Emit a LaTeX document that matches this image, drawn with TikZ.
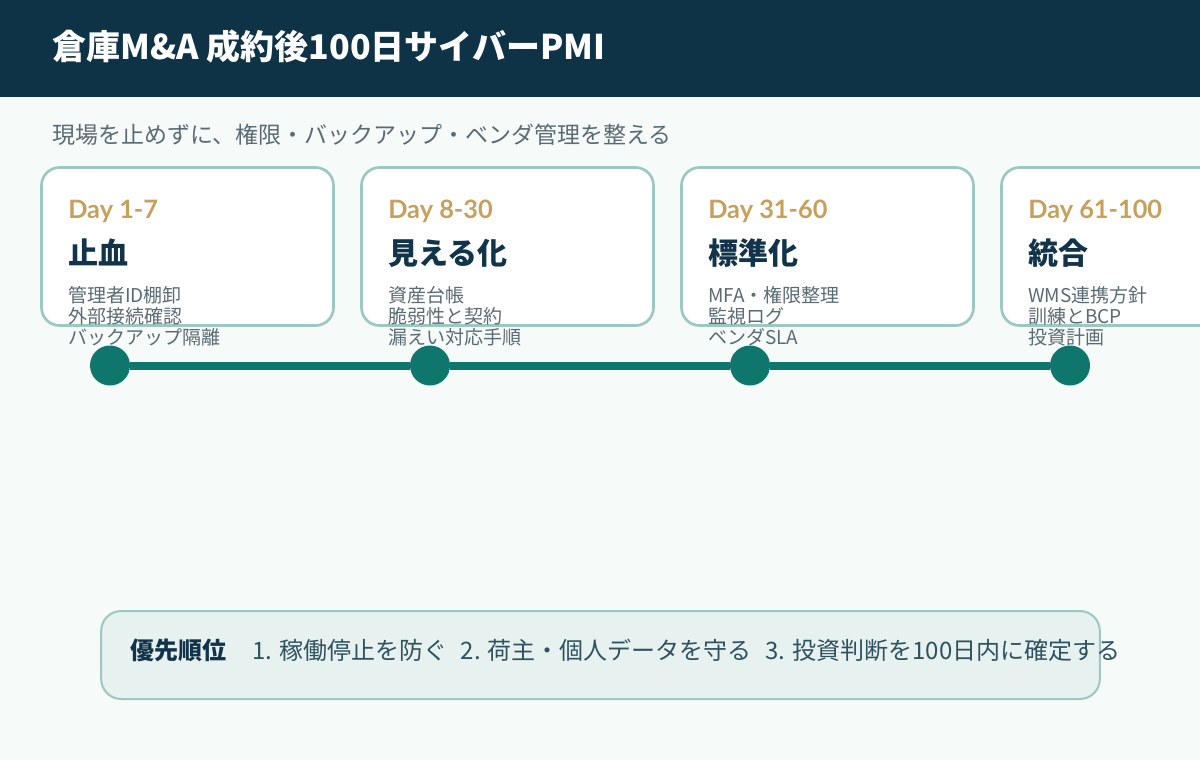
\documentclass[tikz,border=0pt]{standalone}
\usepackage{fontspec}
\setmainfont{Noto Sans CJK JP}
\newfontfamily\latofont{Lato}
\usepackage{tikz}
\usetikzlibrary{positioning}

\definecolor{bgc}{HTML}{F6FAF9}
\definecolor{hdrnavy}{HTML}{0E3347}
\definecolor{cardline}{HTML}{9DC8C1}
\definecolor{gold}{HTML}{C6A15B}
\definecolor{navy}{HTML}{12344A}
\definecolor{slate}{HTML}{5B6B73}
\definecolor{tealdot}{HTML}{0F766E}
\definecolor{priofill}{HTML}{E7F1EF}
\definecolor{priotext}{HTML}{2F5260}

\begin{document}
\begin{tikzpicture}[x=0.75pt,y=-0.75pt]
    \tikzset{
        card/.style={draw=cardline, fill=white, line width=2pt, rounded corners=13.5pt,
            minimum width=219pt, minimum height=118.5pt, node distance=240pt},
        daytxt/.style={anchor=base west, inner sep=0, text=gold,
            font=\latofont\bfseries\fontsize{19pt}{19pt}\selectfont},
        phase/.style={anchor=base west, inner sep=0, text=navy,
            font=\bfseries\fontsize{22.5pt}{22.5pt}\selectfont},
        items/.style={anchor=base west, inner sep=0, text=slate, align=left,
            font=\fontsize{14.25pt}{15.75pt}\selectfont},
        dot/.style={circle, fill=tealdot, inner sep=0, minimum size=30pt, node distance=240pt},
        tline/.style={draw=tealdot, line width=6pt},
        prio/.style={draw=cardline, fill=priofill, line width=1.5pt, rounded corners=15pt,
            minimum width=749pt, minimum height=66pt},
    };
    \useasboundingbox (0,0) rectangle (1200,760);
    \clip (0,0) rectangle (1200,760);
    \fill [bgc] (0,0) rectangle (1200,760);
    \fill [hdrnavy] (0,0) rectangle (1200,97);

    % header
    \node [anchor=base west, inner sep=0, text=white, font=\bfseries\fontsize{25.5pt}{25.5pt}\selectfont]
        (title) at (52,59) {倉庫M\&A 成約後100日サイバーPMI};
    \node [anchor=base west, inner sep=0, text=slate, font=\fontsize{17.25pt}{17.25pt}\selectfont]
        (sub) at (52,143) {現場を止めずに、権限・バックアップ・ベンダ管理を整える};

    % phase cards
    \node [card] (c1) at (187.5,246.5) {};
    \node [card,right of =c1] (c2) {};
    \node [card,right of =c2] (c3) {};
    \node [card,right of =c3] (c4) {};

    \node [daytxt] (day1) at (68,218) {Day 1-7};
    \node [daytxt] (day2) at (388,218) {Day 8-30};
    \node [daytxt] (day3) at (708,218) {Day 31-60};
    \node [daytxt] (day4) at (1028,218) {Day 61-100};

    \node [phase] (ph1) at (68,264) {止血};
    \node [phase] (ph2) at (388,264) {見える化};
    \node [phase] (ph3) at (708,264) {標準化};
    \node [phase] (ph4) at (1028,264) {統合};

    % last line's baseline
    \node [items] (it1) at (68,344) {管理者ID棚卸\\外部接続確認\\バックアップ隔離};
    \node [items] (it2) at (388,344) {資産台帳\\脆弱性と契約\\漏えい対応手順};
    \node [items] (it3) at (708,344) {MFA・権限整理\\監視ログ\\ベンダSLA};
    \node [items] (it4) at (1028,344) {WMS連携方針\\訓練とBCP\\投資計画};

    % timeline
    \node [dot] (d1) at (110,365.5) {};
    \node [dot,right of =d1] (d2) {};
    \node [dot,right of =d2] (d3) {};
    \node [dot,right of =d3] (d4) {};

    \path [tline] (d1)--(d2);
    \path [tline] (d2)--(d3);
    \path [tline] (d3)--(d4);

    % priorities
    \node [prio] (pbox) at (600.5,655) {};
    \node [anchor=base west, inner sep=0, text=navy, font=\bfseries\fontsize{18pt}{18pt}\selectfont]
        (plabel) at (130,659) {優先順位};
    \node [anchor=base west, inner sep=0, text=priotext, font=\fontsize{18pt}{18pt}\selectfont]
        (plist) at (252,659) {1. 稼働停止を防ぐ\hspace{10pt}2. 荷主・個人データを守る\hspace{10pt}3. 投資判断を100日内に確定する};
\end{tikzpicture}
\end{document}
